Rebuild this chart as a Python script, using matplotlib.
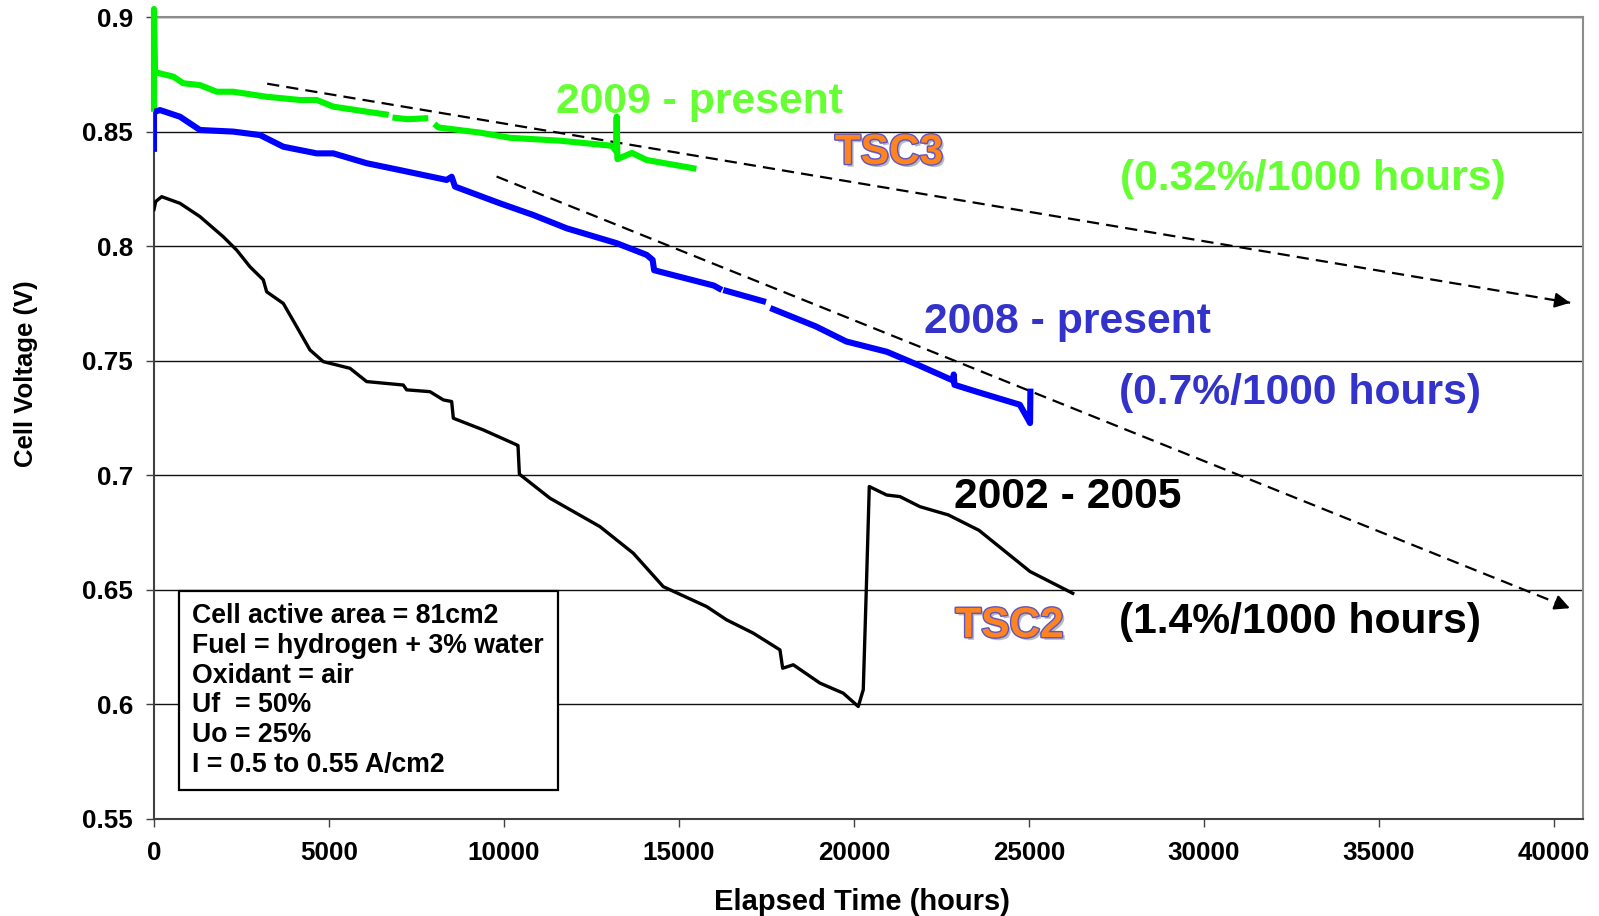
import numpy as np
import matplotlib
matplotlib.use("Agg")
import matplotlib.pyplot as plt
import matplotlib.patheffects as pe
from matplotlib.patches import Rectangle

plt.rcParams['font.family'] = ['Liberation Sans', 'DejaVu Sans']
plt.rcParams['font.weight'] = 'bold'

# TSC2 cell, 2002 - 2005
t_2002 = [0, 50, 220, 743, 1314, 1980, 2362, 2743, 3123, 3219, 3695, 4076, 4457, 4838,
          5600, 6077, 7123, 7219, 7885, 8267, 8505, 8553, 9410, 10362, 10400, 10440,
          11314, 12742, 13694, 14551, 15791, 16362, 17123, 17885, 17962, 18266, 19028,
          19694, 20122, 20265, 20360, 20437, 20934, 21314, 21885, 22697, 23570, 24300,
          25030, 26250]
v_2002 = [0.8160, 0.8195, 0.8216, 0.8187, 0.8129, 0.8041, 0.7983, 0.7910, 0.7853, 0.7801,
          0.7750, 0.7649, 0.7547, 0.7496, 0.7467, 0.7409, 0.7394, 0.7373, 0.7365, 0.7329,
          0.7322, 0.7249, 0.7198, 0.7133, 0.7130, 0.7005, 0.6900, 0.6776, 0.6660, 0.6514,
          0.6427, 0.6369, 0.6311, 0.6238, 0.6158, 0.6173, 0.6093, 0.6049, 0.5991, 0.6064,
          0.6544, 0.6951, 0.6914, 0.6907, 0.6863, 0.6827, 0.6760, 0.6670, 0.6580, 0.6485]

# TSC3 cell, 2008 - present (nan = logging gaps)
t_2008 = [0, 0, 171, 743, 1314, 2266, 3028, 3695, 4648, 5123, 6077, 7028, 8362, 8505,
          8600, 9885, 10837, 11790, 13219, 14076, 14247, 14290, 15996, 16150, np.nan,
          16350, 17400, np.nan, 17690, 18908, 19780, 20942, 21823, 22840, 22850, 22870,
          23500, 24737, 24990, 25030, 25040]
v_2008 = [0.8425, 0.8585, 0.8594, 0.8565, 0.8507, 0.8500, 0.8485, 0.8434, 0.8405, 0.8405,
          0.8362, 0.8332, 0.8289, 0.8303, 0.8260, 0.8187, 0.8136, 0.8078, 0.8013, 0.7962,
          0.7940, 0.7895, 0.7828, 0.7815, np.nan, 0.7805, 0.7760, np.nan, 0.7725, 0.7650,
          0.7584, 0.7539, 0.7482, 0.7413, 0.7440, 0.7395, 0.7365, 0.7308, 0.7240, 0.7228,
          0.7365]

# TSC3 cell, 2009 - present
t_2009 = [0, 0, 30, 171, 551, 837, 1314, 1791, 2266, 3219, 4171, 4648, 5123, 6077, 6620,
          np.nan, 6900, 7254, 7750, np.nan, 8075, 8128, 9294, 10168, 11628, 13085, 13200,
          13220, 13240, 13657, 14076, 15410]
v_2009 = [0.8600, 0.9035, 0.8760, 0.8754, 0.8740, 0.8711, 0.8703, 0.8674, 0.8674, 0.8652,
          0.8638, 0.8638, 0.8609, 0.8587, 0.8575, np.nan, 0.8560, 0.8554, 0.8558, np.nan,
          0.8525, 0.8518, 0.8496, 0.8473, 0.8460, 0.8438, 0.8415, 0.8565, 0.8380, 0.8407,
          0.8376, 0.8340]

# degradation trend arrows (start, end)
trend_2009_t = [3234, 40460]
trend_2009_v = [0.8709, 0.7753]
trend_2008_t = [9788, 40455]
trend_2008_v = [0.8304, 0.6420]

y_ticks = [0.55, 0.6, 0.65, 0.7, 0.75, 0.8, 0.85, 0.9]
y_labels = ['0.55', '0.6', '0.65', '0.7', '0.75', '0.8', '0.85', '0.9']
x_ticks = [0, 5000, 10000, 15000, 20000, 25000, 30000, 35000, 40000]

conditions = ['Cell active area = 81cm2',
              'Fuel = hydrogen + 3% water',
              'Oxidant = air',
              'Uf  = 50%',
              'Uo = 25%',
              'I = 0.5 to 0.55 A/cm2']

GREEN = '#00f400'
GREEN_TXT = '#66ff33'
BLUE = '#0000ff'
BLUE_TXT = '#3333cc'

fig = plt.figure(figsize=(15.99, 9.16), dpi=100)
ax = fig.add_axes([0.0963, 0.1059, 0.8937, 0.8755])

ax.plot(t_2002, v_2002, color='black', lw=2.4, zorder=4)
ax.plot(t_2009, v_2009, color=GREEN, lw=4.4, zorder=4, clip_on=False)
ax.plot(t_2008, v_2008, color=BLUE, lw=4.4, zorder=5)

for tt, vv in [(trend_2009_t, trend_2009_v), (trend_2008_t, trend_2008_v)]:
    ax.plot(tt, vv, color='black', lw=1.6, dashes=(5.5, 3.2), zorder=3)
    # arrow head at the end of the trend line
    dt = tt[1] - tt[0]
    dv = vv[1] - vv[0]
    ax.annotate('', xy=(tt[1], vv[1]), xytext=(tt[1] - dt * 0.01, vv[1] - dv * 0.01),
                arrowprops=dict(arrowstyle='-|>,head_length=0.9,head_width=0.45',
                                color='black', lw=1.6, shrinkA=0, shrinkB=0),
                zorder=3)

ax.set_xlim(0, 40829)
ax.set_ylim(0.55, 0.9)
ax.set_yticks(y_ticks)
ax.set_yticklabels(y_labels)
ax.set_xticks(x_ticks)
ax.set_xticklabels([str(x) for x in x_ticks])
ax.tick_params(axis='both', labelsize=18.7, length=6, width=1, color='#404040', direction='out')
ax.tick_params(axis='x', pad=10)
ax.tick_params(axis='y', pad=9)
ax.yaxis.grid(True, color='#111111', lw=1)
ax.set_axisbelow(True)
for side in ['top', 'right']:
    ax.spines[side].set_color('#8c8c8c')
    ax.spines[side].set_linewidth(1.5)
for side in ['left', 'bottom']:
    ax.spines[side].set_color('#404040')
    ax.spines[side].set_linewidth(1.5)

fig.text(861.7 / 1599, 1 - 902.5 / 916, 'Elapsed Time (hours)', fontsize=21,
         ha='center', va='center')
fig.text(26.5 / 1599, 1 - 374 / 916, 'Cell Voltage (V)', fontsize=18.5,
         ha='center', va='center', rotation=90)

big = 30.7
ax.text(15588, 0.8629, '2009 - present', color=GREEN_TXT, fontsize=big, ha='center', va='center')
ax.text(33100, 0.8291, '(0.32%/1000 hours)', color=GREEN_TXT, fontsize=big, ha='center', va='center')
ax.text(26105, 0.7668, '2008 - present', color=BLUE_TXT, fontsize=big, ha='center', va='center')
ax.text(32750, 0.7361, '(0.7%/1000 hours)', color=BLUE_TXT, fontsize=big, ha='center', va='center')
ax.text(26105, 0.6907, '2002 - 2005', color='black', fontsize=big, ha='center', va='center')
ax.text(32750, 0.6360, '(1.4%/1000 hours)', color='black', fontsize=big, ha='center', va='center')

tsc_fx = [pe.SimplePatchShadow(offset=(2, -2), shadow_rgbFace='#777777', alpha=0.5),
          pe.Stroke(linewidth=2, foreground='#5b55c8'), pe.Normal()]
ax.text(21000, 0.8407, 'TSC3', color='#ff8420', fontsize=30.5, ha='center', va='center',
        path_effects=tsc_fx, zorder=6)
ax.text(24445, 0.6342, 'TSC2', color='#ff8420', fontsize=30.5, ha='center', va='center',
        path_effects=tsc_fx, zorder=6)

# test conditions box
ax.add_patch(Rectangle((0.01785, 0.0358), 0.2647, 0.2479, transform=ax.transAxes,
                       facecolor='white', edgecolor='black', lw=1.6, zorder=6))
for i, line in enumerate(conditions):
    ax.text(0.0264, 0.2531 - i * 0.03716, line, transform=ax.transAxes, fontsize=19.2,
            ha='left', va='center', zorder=7)

fig.savefig('out.png', dpi=100)
